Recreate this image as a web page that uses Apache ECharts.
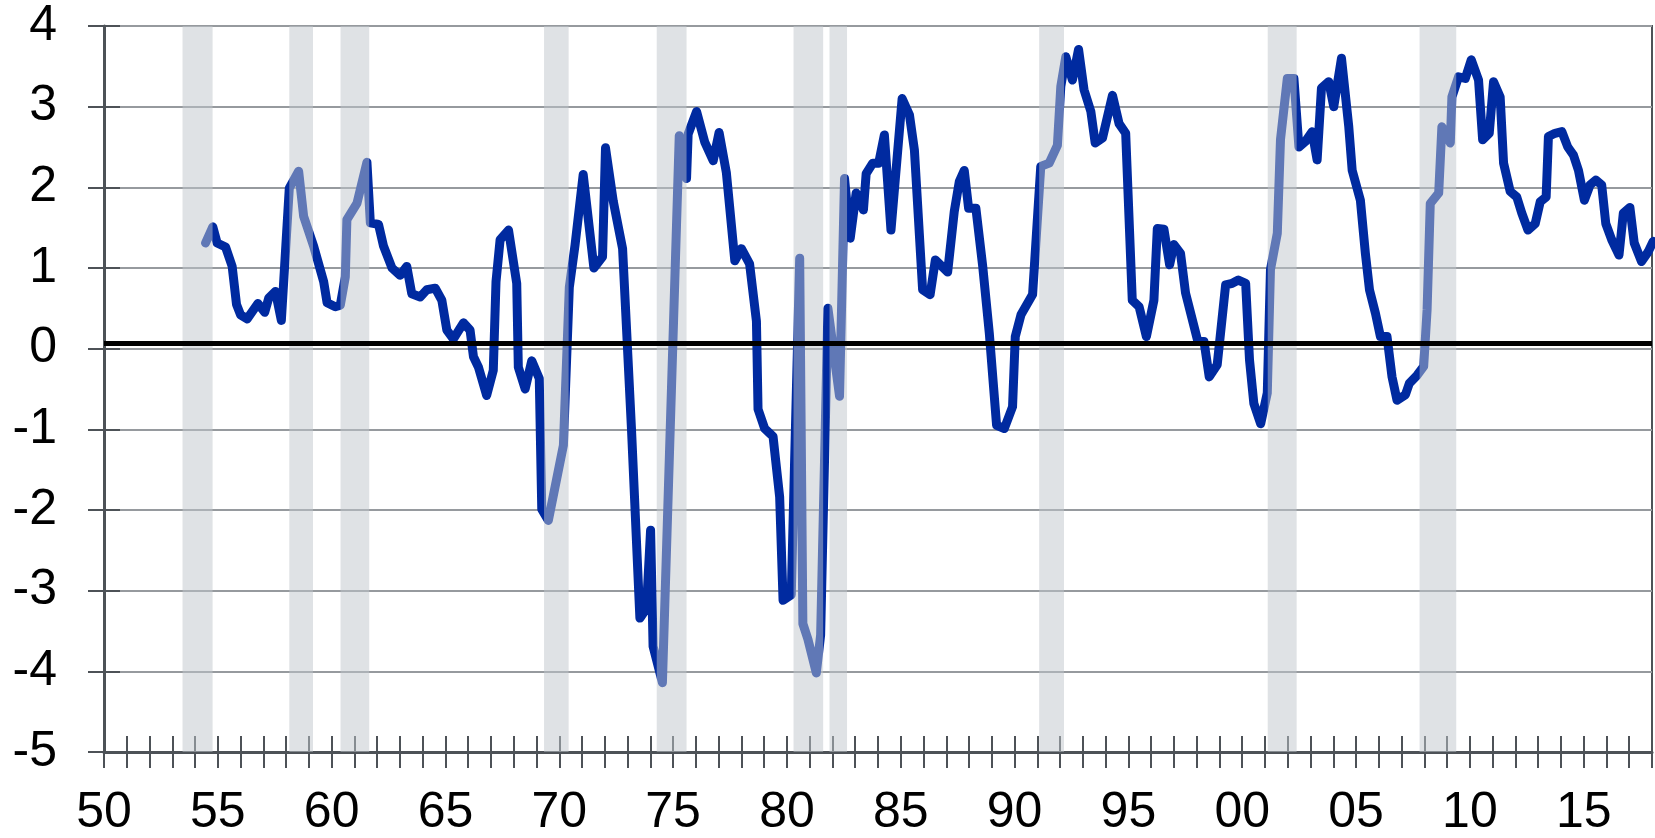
<!DOCTYPE html>
<html>
<head>
    <meta charset="utf-8">
    <script type="text/javascript" src="https://cdn.jsdelivr.net/npm/echarts@6/dist/echarts.min.js"></script>
    <style type="text/css">
        *{
            margin: 0;
            padding: 0;
        }
        #main{
            width: 1655px;
            height: 838px;
            background: #fff;
        }
    </style>
</head>
<body>
<div id="main"></div>
<script type="text/javascript">
    // quarterly readings (decimal year) and values
    var dates = [
        1954.46, 1954.78, 1954.97, 1955.34, 1955.63, 1955.82, 1956.00, 1956.29, 1956.76, 1957.06,
        1957.24, 1957.53, 1957.79, 1958.14, 1958.55, 1958.77, 1959.21, 1959.65, 1959.80, 1960.16,
        1960.38, 1960.60, 1960.67, 1961.11, 1961.55, 1961.70, 1962.06, 1962.28, 1962.65, 1963.01,
        1963.30, 1963.52, 1963.89, 1964.18, 1964.55, 1964.84, 1965.06, 1965.35, 1965.79, 1966.08,
        1966.23, 1966.45, 1966.81, 1967.10, 1967.22, 1967.40, 1967.77, 1968.13, 1968.20, 1968.50,
        1968.79, 1969.12, 1969.23, 1969.52, 1970.18, 1970.44, 1970.69, 1971.05, 1971.52, 1971.90,
        1972.03, 1972.37, 1972.78, 1973.17, 1973.54, 1973.83, 1974.01, 1974.12, 1974.53, 1975.27,
        1975.59, 1975.66, 1976.03, 1976.39, 1976.76, 1977.02, 1977.34, 1977.71, 1978.00, 1978.36,
        1978.66, 1978.73, 1979.02, 1979.39, 1979.68, 1979.83, 1980.19, 1980.56, 1980.70, 1980.92,
        1981.29, 1981.48, 1981.80, 1982.31, 1982.53, 1982.78, 1983.04, 1983.36, 1983.48, 1983.77,
        1984.03, 1984.28, 1984.57, 1985.06, 1985.38, 1985.60, 1985.96, 1986.29, 1986.52, 1987.06,
        1987.35, 1987.57, 1987.79, 1987.98, 1988.30, 1988.60, 1988.89, 1989.21, 1989.55, 1989.91,
        1990.03, 1990.28, 1990.79, 1991.15, 1991.52, 1991.88, 1992.03, 1992.25, 1992.54, 1992.81,
        1993.05, 1993.35, 1993.54, 1993.86, 1994.30, 1994.59, 1994.88, 1995.17, 1995.47, 1995.79,
        1996.12, 1996.27, 1996.56, 1996.81, 1997.00, 1997.29, 1997.51, 1998.05, 1998.32, 1998.55,
        1998.90, 1999.27, 1999.56, 1999.83, 2000.15, 2000.32, 2000.51, 2000.81, 2001.10, 2001.24,
        2001.54, 2001.68, 2001.98, 2002.27, 2002.49, 2002.78, 2003.07, 2003.29, 2003.48, 2003.80,
        2004.02, 2004.36, 2004.68, 2004.83, 2005.19, 2005.41, 2005.59, 2005.85, 2006.07, 2006.36,
        2006.58, 2006.80, 2007.17, 2007.34, 2007.68, 2007.97, 2008.12, 2008.26, 2008.63, 2008.77,
        2009.14, 2009.21, 2009.50, 2009.80, 2010.06, 2010.38, 2010.56, 2010.85, 2011.04, 2011.33,
        2011.48, 2011.77, 2012.06, 2012.28, 2012.55, 2012.87, 2013.09, 2013.35, 2013.45, 2013.74,
        2014.04, 2014.30, 2014.55, 2014.77, 2015.03, 2015.28, 2015.53, 2015.79, 2015.97, 2016.23,
        2016.55, 2016.74, 2017.03, 2017.22, 2017.54, 2017.83, 2018.05
    ];
    var spread = [
        1.31, 1.51, 1.31, 1.26, 1.02, 0.55, 0.42, 0.37, 0.56, 0.45,
        0.63, 0.71, 0.35, 1.99, 2.20, 1.64, 1.27, 0.83, 0.57, 0.52,
        0.54, 0.89, 1.60, 1.80, 2.31, 1.56, 1.54, 1.27, 1.00, 0.91,
        1.02, 0.68, 0.64, 0.73, 0.75, 0.60, 0.23, 0.12, 0.32, 0.23,
        -0.10, -0.23, -0.58, -0.27, 0.83, 1.35, 1.47, 0.81, -0.23, -0.50,
        -0.15, -0.37, -1.99, -2.13, -1.20, 0.76, 1.28, 2.16, 1.00, 1.14,
        2.49, 1.83, 1.24, -0.99, -3.34, -3.22, -2.25, -3.69, -4.14, 2.64,
        2.11, 2.66, 2.94, 2.56, 2.33, 2.68, 2.18, 1.09, 1.24, 1.05,
        0.34, -0.75, -0.99, -1.09, -1.84, -3.12, -3.05, 1.12, -3.41, -3.60,
        -4.02, -3.55, 0.50, -0.59, 2.11, 1.37, 1.93, 1.72, 2.17, 2.30,
        2.30, 2.65, 1.47, 3.10, 2.90, 2.46, 0.73, 0.67, 1.10, 0.95,
        1.70, 2.07, 2.21, 1.74, 1.74, 1.02, 0.19, -0.95, -0.99, -0.72,
        0.15, 0.42, 0.67, 2.26, 2.30, 2.52, 3.25, 3.62, 3.33, 3.71,
        3.21, 2.94, 2.55, 2.61, 3.14, 2.79, 2.67, 0.60, 0.52, 0.15,
        0.60, 1.49, 1.48, 1.04, 1.29, 1.18, 0.69, 0.09, 0.09, -0.35,
        -0.20, 0.79, 0.81, 0.85, 0.81, -0.14, -0.68, -0.93, -0.55, 0.98,
        1.43, 2.59, 3.35, 3.35, 2.50, 2.57, 2.69, 2.34, 3.23, 3.31,
        3.00, 3.60, 2.75, 2.21, 1.84, 1.18, 0.73, 0.44, 0.15, 0.15,
        -0.35, -0.64, -0.57, -0.43, -0.33, -0.22, 0.48, 1.80, 1.93, 2.75,
        2.55, 3.12, 3.37, 3.35, 3.58, 3.33, 2.59, 2.67, 3.31, 3.12,
        2.30, 1.95, 1.88, 1.68, 1.47, 1.55, 1.82, 1.88, 2.63, 2.67,
        2.69, 2.50, 2.40, 2.21, 1.84, 2.03, 2.09, 2.03, 1.55, 1.35,
        1.16, 1.68, 1.75, 1.31, 1.08, 1.20, 1.33
    ];
    // recession shading
    var recStart = [1953.45, 1958.14, 1960.39, 1969.33, 1974.28, 1980.29, 1981.87, 1991.08, 2001.12, 2007.79];
    var recEnd   = [1954.77, 1959.18, 1961.65, 1970.41, 1975.59, 1981.59, 1982.64, 1992.17, 2002.39, 2009.40];
    var refLevel = 0.07;

    var lineData = dates.map(function (d, i) { return [d, spread[i]]; });
    var bandData = recStart.map(function (s, i) { return [s, recEnd[i]]; });

    var axisColor = '#4d5257';
    var fontFam = '"Liberation Sans", Arial, sans-serif';

    var myChart = echarts.init(document.getElementById('main'));
    var option = {
        animation: false,
        grid: {
            left: 104,
            right: 1,
            top: 26,
            bottom: 85,
            show: true,
            borderColor: axisColor,
            borderWidth: 2
        },
        xAxis: [
            {
                type: 'value',
                min: 1950,
                max: 2018,
                interval: 1,
                position: 'bottom',
                axisLine: {show: true, onZero: false, lineStyle: {color: axisColor, width: 3}},
                axisTick: {show: true, inside: false, length: 16, lineStyle: {color: axisColor, width: 2}},
                splitLine: {show: false},
                axisLabel: {
                    margin: 36,
                    fontSize: 50,
                    color: '#000',
                    fontFamily: fontFam,
                    formatter: function (v) {
                        if (v % 5 !== 0 || v >= 2018) return '';
                        var s = String(v % 100);
                        return s.length < 2 ? '0' + s : s;
                    }
                }
            },
            {
                type: 'value',
                min: 1950,
                max: 2018,
                interval: 1,
                position: 'bottom',
                axisLine: {show: false, onZero: false},
                axisTick: {show: true, inside: true, length: 16, lineStyle: {color: axisColor, width: 2}},
                splitLine: {show: false},
                axisLabel: {show: false}
            }
        ],
        yAxis: [
            {
                type: 'value',
                min: -5,
                max: 4,
                interval: 1,
                position: 'left',
                axisLine: {show: true, onZero: false, lineStyle: {color: axisColor, width: 3}},
                axisTick: {show: true, inside: false, length: 16, lineStyle: {color: axisColor, width: 2}},
                splitLine: {show: true, lineStyle: {color: '#969a9e', width: 2}},
                axisLabel: {
                    margin: 47,
                    fontSize: 50,
                    color: '#000',
                    fontFamily: fontFam
                }
            },
            {
                type: 'value',
                min: -5,
                max: 4,
                interval: 1,
                position: 'left',
                axisLine: {show: false, onZero: false},
                axisTick: {show: true, inside: true, length: 16, lineStyle: {color: axisColor, width: 2}},
                splitLine: {show: false},
                axisLabel: {show: false}
            }
        ],
        series: [
            {
                name: 'spread',
                type: 'line',
                xAxisIndex: 0,
                yAxisIndex: 0,
                z: 2,
                data: lineData,
                showSymbol: false,
                symbol: 'none',
                clip: true,
                itemStyle: {color: '#002aa0'},
                lineStyle: {color: '#002aa0', width: 9, cap: 'round', join: 'round'}
            },
            {
                name: 'recessions',
                type: 'custom',
                xAxisIndex: 0,
                yAxisIndex: 0,
                z: 3,
                silent: true,
                data: bandData,
                encode: {x: [0, 1]},
                renderItem: function (params, api) {
                    var p0 = api.coord([api.value(0), 4]);
                    var p1 = api.coord([api.value(1), -5]);
                    return {
                        type: 'rect',
                        shape: {x: p0[0], y: p0[1], width: p1[0] - p0[0], height: p1[1] - p0[1]},
                        style: {fill: 'rgba(191,197,203,0.5)'}
                    };
                }
            },
            {
                name: 'ref',
                type: 'line',
                xAxisIndex: 0,
                yAxisIndex: 0,
                z: 4,
                data: [],
                markLine: {
                    silent: true,
                    symbol: 'none',
                    label: {show: false},
                    lineStyle: {color: '#000', width: 5, type: 'solid'},
                    data: [{yAxis: refLevel}]
                }
            }
        ]
    };
    myChart.setOption(option);
</script>
</body>
</html>
